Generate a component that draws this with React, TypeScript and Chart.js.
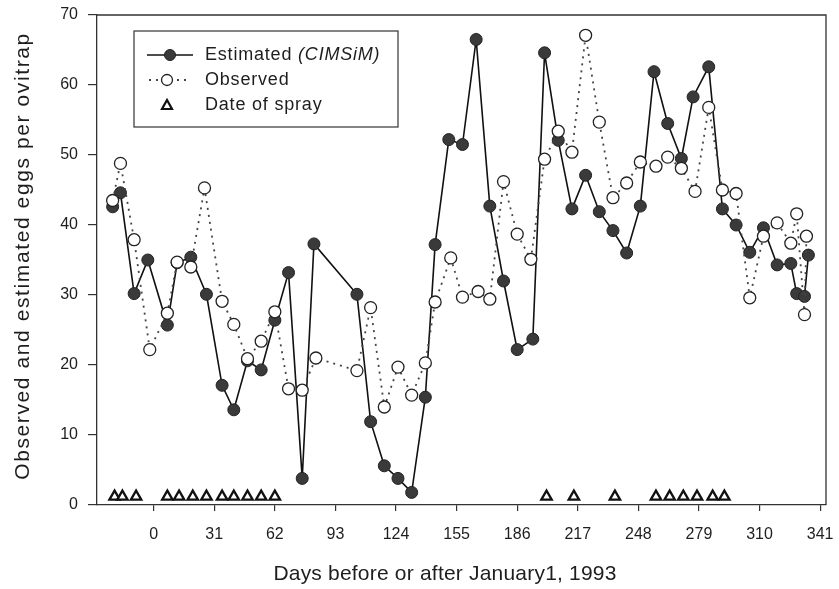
import React, { useEffect, useRef } from "react";
import { Chart, registerables } from "chart.js";

Chart.register(...registerables);

const estDays = [-21, -17, -10, -3, 7, 12, 19, 27, 35, 41, 48, 55, 62, 69, 76, 82, 104, 111, 118, 125, 132, 139, 144, 151, 158, 165, 172, 179, 186, 194, 200, 207, 214, 221, 228, 235, 242, 249, 256, 263, 270, 276, 284, 291, 298, 305, 312, 319, 326, 329, 333, 335];
const estVals = [42.6, 44.6, 30.2, 35.0, 25.7, 34.6, 35.4, 30.1, 17.1, 13.6, 20.6, 19.3, 26.4, 33.2, 3.8, 37.3, 30.1, 11.9, 5.6, 3.8, 1.8, 15.4, 37.2, 52.2, 51.5, 66.5, 42.7, 32.0, 22.2, 23.7, 64.6, 52.1, 42.3, 47.1, 41.9, 39.2, 36.0, 42.7, 61.9, 54.5, 49.5, 58.3, 62.6, 42.3, 40.0, 36.1, 39.6, 34.3, 34.5, 30.2, 29.8, 35.7];

const obsDays = [-21, -17, -10, -2, 7, 12, 19, 26, 35, 41, 48, 55, 62, 69, 76, 83, 104, 111, 118, 125, 132, 139, 144, 152, 158, 166, 172, 179, 186, 193, 200, 207, 214, 221, 228, 235, 242, 249, 257, 263, 270, 277, 284, 291, 298, 305, 312, 319, 326, 329, 333, 334];
const obsVals = [43.5, 48.8, 37.9, 22.2, 27.4, 34.7, 34.0, 45.3, 29.1, 25.8, 20.9, 23.4, 27.6, 16.6, 16.4, 21.0, 19.2, 28.2, 14.0, 19.7, 15.7, 20.3, 29.0, 35.3, 29.7, 30.5, 29.4, 46.2, 38.7, 35.1, 49.4, 53.4, 50.4, 67.1, 54.7, 43.9, 46.0, 49.0, 48.4, 49.7, 48.1, 44.8, 56.8, 45.0, 44.5, 29.6, 38.4, 40.3, 37.4, 41.6, 27.2, 38.4];

const sprayDays = [-20, -16, -9, 7, 13, 20, 27, 35, 41, 48, 55, 62, 201, 215, 236, 257, 264, 271, 278, 286, 292];
const sprayVals = [1.2, 1.2, 1.2, 1.2, 1.2, 1.2, 1.2, 1.2, 1.2, 1.2, 1.2, 1.2, 1.2, 1.2, 1.2, 1.2, 1.2, 1.2, 1.2, 1.2, 1.2];

const xTickValues = [0, 31, 62, 93, 124, 155, 186, 217, 248, 279, 310, 341];
const yTickValues = [0, 10, 20, 30, 40, 50, 60, 70];

const legendLabels = ["Estimated ", "(CIMSiM)", "Observed", "Date of spray"];
const xTitle = "Days before or after January1, 1993";
const yTitle = "Observed and estimated eggs per ovitrap";

const FONT = "'Liberation Sans', Arial, sans-serif";
const INK = "#1e1e1e";

const framePlugin = {
  id: "frameAndLegend",
  afterDraw(chart: any) {
    const { ctx, chartArea } = chart;
    ctx.save();
    // top and right frame
    ctx.strokeStyle = "#333";
    ctx.lineWidth = 1.3;
    ctx.beginPath();
    ctx.moveTo(chartArea.left, chartArea.top);
    ctx.lineTo(chartArea.right, chartArea.top);
    ctx.lineTo(chartArea.right, chartArea.bottom);
    ctx.stroke();

    // y axis title
    ctx.save();
    ctx.translate(23, 256);
    ctx.rotate(-Math.PI / 2);
    ctx.font = `21px ${FONT}`;
    (ctx as any).letterSpacing = "1.6px";
    ctx.fillStyle = INK;
    ctx.textAlign = "center";
    ctx.textBaseline = "middle";
    ctx.fillText(yTitle, 0, 0);
    ctx.restore();

    // x axis title
    ctx.save();
    ctx.font = `21px ${FONT}`;
    (ctx as any).letterSpacing = "0.2px";
    ctx.fillStyle = INK;
    ctx.textAlign = "center";
    ctx.textBaseline = "middle";
    ctx.fillText(xTitle, 445, 574);
    ctx.restore();

    // legend box
    ctx.fillStyle = "#fff";
    ctx.fillRect(134, 31, 264, 96);
    ctx.strokeStyle = "#333";
    ctx.lineWidth = 1.2;
    ctx.strokeRect(134, 31, 264, 96);

    const tx = 205;
    const rows = [55, 80, 105];
    // Estimated
    ctx.strokeStyle = "#111";
    ctx.lineWidth = 1.6;
    ctx.beginPath();
    ctx.moveTo(147, rows[0]);
    ctx.lineTo(193, rows[0]);
    ctx.stroke();
    ctx.beginPath();
    ctx.arc(170, rows[0], 5.5, 0, Math.PI * 2);
    ctx.fillStyle = "#3a3a3a";
    ctx.fill();
    ctx.lineWidth = 1;
    ctx.strokeStyle = "#222";
    ctx.stroke();

    // Observed
    ctx.setLineDash([2, 5]);
    ctx.lineWidth = 1.8;
    ctx.strokeStyle = "#444";
    ctx.beginPath();
    ctx.moveTo(149, rows[1]);
    ctx.lineTo(189, rows[1]);
    ctx.stroke();
    ctx.setLineDash([]);
    ctx.beginPath();
    ctx.arc(167, rows[1], 5.5, 0, Math.PI * 2);
    ctx.fillStyle = "#fff";
    ctx.fill();
    ctx.lineWidth = 1.3;
    ctx.strokeStyle = "#222";
    ctx.stroke();

    // Spray
    ctx.beginPath();
    ctx.moveTo(167, rows[2] - 5);
    ctx.lineTo(172, rows[2] + 4);
    ctx.lineTo(162, rows[2] + 4);
    ctx.closePath();
    ctx.fillStyle = "#fff";
    ctx.fill();
    ctx.lineWidth = 2.2;
    ctx.strokeStyle = "#111";
    ctx.stroke();

    ctx.fillStyle = INK;
    ctx.textBaseline = "middle";
    ctx.textAlign = "left";
    (ctx as any).letterSpacing = "0.8px";
    ctx.font = `18px ${FONT}`;
    ctx.fillText(legendLabels[0], tx, rows[0]);
    const w = ctx.measureText(legendLabels[0]).width;
    ctx.font = `italic 18px ${FONT}`;
    ctx.fillText(legendLabels[1], tx + w, rows[0]);
    ctx.font = `18px ${FONT}`;
    ctx.fillText(legendLabels[2], tx, rows[1]);
    ctx.fillText(legendLabels[3], tx, rows[2]);
    (ctx as any).letterSpacing = "0px";
    ctx.restore();
  },
};

export default function App() {
  const ref = useRef<HTMLCanvasElement | null>(null);

  useEffect(() => {
    if (!ref.current) return;
    const chart = new Chart(ref.current, {
      type: "line",
      data: {
        datasets: [
          {
            label: "Observed",
            data: obsDays.map((d, i) => ({ x: d, y: obsVals[i] })),
            borderColor: "#444",
            borderWidth: 1.8,
            borderDash: [2, 5],
            pointRadius: 6,
            pointBackgroundColor: "#fff",
            pointBorderColor: "#222",
            pointBorderWidth: 1.3,
            fill: false,
            tension: 0,
            order: 1,
          },
          {
            label: "Estimated (CIMSiM)",
            data: estDays.map((d, i) => ({ x: d, y: estVals[i] })),
            borderColor: "#111",
            borderWidth: 1.6,
            pointRadius: 6,
            pointBackgroundColor: "#3a3a3a",
            pointBorderColor: "#222",
            pointBorderWidth: 1,
            fill: false,
            tension: 0,
            order: 2,
          },
          {
            label: "Date of spray",
            data: sprayDays.map((d, i) => ({ x: d, y: sprayVals[i] })),
            showLine: false,
            pointStyle: "triangle",
            pointRadius: 6,
            pointBackgroundColor: "#fff",
            pointBorderColor: "#111",
            pointBorderWidth: 2.3,
            order: 0,
          },
        ],
      },
      options: {
        responsive: false,
        animation: false,
        layout: { padding: { left: 0, top: 15, right: 13, bottom: 0 } },
        plugins: { legend: { display: false }, tooltip: { enabled: false } },
        scales: {
          x: {
            type: "linear",
            min: -29,
            max: 344,
            afterBuildTicks: (s: any) => {
              s.ticks = xTickValues.map((v) => ({ value: v }));
            },
            afterFit: (s: any) => {
              s.height = 84;
              s.paddingLeft = 0;
              s.paddingRight = 0;
            },
            grid: { drawOnChartArea: false, drawTicks: true, tickLength: 6, color: "#333", lineWidth: 1.2 },
            border: { display: true, color: "#333", width: 1.3 },
            ticks: {
              color: INK,
              font: { family: FONT, size: 16 },
              padding: 14,
              maxRotation: 0,
              autoSkip: false,
            },
            title: { display: false, text: xTitle },
          },
          y: {
            type: "linear",
            min: 0,
            max: 70,
            afterBuildTicks: (s: any) => {
              s.ticks = yTickValues.map((v) => ({ value: v }));
            },
            afterFit: (s: any) => {
              s.width = 97;
              s.paddingTop = 0;
              s.paddingBottom = 0;
            },
            grid: { drawOnChartArea: false, drawTicks: true, tickLength: 9, color: "#333", lineWidth: 1.2 },
            border: { display: true, color: "#333", width: 1.3 },
            ticks: {
              color: INK,
              font: { family: FONT, size: 16 },
              padding: 10,
            },
            title: { display: false, text: yTitle },
          },
        },
      },
      plugins: [framePlugin],
    });
    return () => chart.destroy();
  }, []);

  return (
    <div style={{ position: "fixed", left: 0, top: 0, width: 839, height: 589, background: "#fff" }}>
      <canvas ref={ref} width={839} height={589} style={{ display: "block", width: 839, height: 589 }} />
    </div>
  );
}
